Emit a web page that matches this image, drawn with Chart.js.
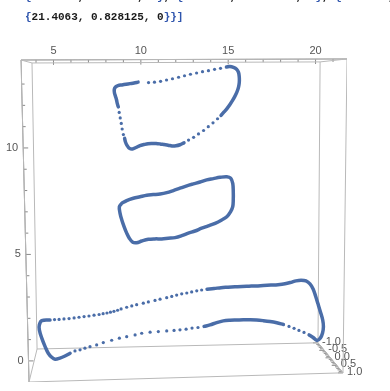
<!DOCTYPE html>
<html>
<head>
<meta charset="utf-8">
<script src="https://cdn.jsdelivr.net/npm/chart.js@4"></script>
<style>
  body { margin: 0; background: #fff; }
  #wrap { position: relative; width: 390px; height: 391px; overflow: hidden; }
  canvas { position: absolute; left: 0; top: 0; }
  .out { position: absolute; left: 25px; font: bold 11px 'Liberation Mono', monospace; line-height: 13px; color: #1a1a1a; white-space: nowrap; }
  .br { color: #2f55ad; }
</style>
</head>
<body>
<div id="wrap">
  <canvas id="plot" width="390" height="391"></canvas>
  <div class="out" style="top:-9px"><span class="br">{</span>21.4213, 2.03125, 0<span class="br">}</span>, <span class="br">{</span>21.4094, 0.921875, 0<span class="br">}</span>, <span class="br">{</span>21.3906, 0.8</div>
  <div class="out" style="top:11px"><span class="br">{</span>21.4063, 0.828125, 0<span class="br">}}]</span></div>
</div>
<script>
// Point curves (x, y), split into solid runs and loose dots
const shape1Solid = [
  [[9.84,13.09],[9.61,13.05],[9.38,13.02],[9.15,12.99],[8.92,12.96],[8.69,12.93],[8.55,12.86],[8.48,12.75],[8.49,12.58],[8.55,12.42],[8.61,12.25],[8.65,12.09],[8.71,11.93]],
  [[9.07,10.45],[9.12,10.28],[9.21,10.12],[9.35,9.98],[9.52,9.95],[9.72,10.02],[9.95,10.11],[10.18,10.16],[10.41,10.20],[10.64,10.21],[10.87,10.21],[11.10,10.19],[11.33,10.16],[11.56,10.13],[11.78,10.09],[12.01,10.10],[12.24,10.15],[12.47,10.24]],
  [[14.59,11.53],[14.76,11.69],[14.93,11.85],[15.10,12.04],[15.25,12.23],[15.38,12.42],[15.49,12.61],[15.57,12.79],[15.62,12.98],[15.64,13.17],[15.63,13.36],[15.59,13.55],[15.48,13.70],[15.30,13.78],[15.10,13.82],[14.90,13.80]]
];
const shape1Dots = [
  [8.76,11.67],[8.82,11.41],[8.88,11.15],[8.93,10.89],[9.00,10.63],
  [12.73,10.37],[13.02,10.50],[13.30,10.66],[13.59,10.82],[13.86,11.00],[14.13,11.18],[14.39,11.37],
  [14.56,13.74],[14.22,13.69],[13.87,13.63],[13.53,13.58],[13.19,13.52],[12.84,13.46],[12.50,13.39],[12.16,13.32],[11.81,13.25],[11.47,13.19],[11.13,13.13],[10.78,13.09],[10.44,13.07]
];
const shape2Solid = [
  [[8.91,7.40],[8.77,7.24],[8.81,6.93],[8.91,6.62],[9.04,6.31],[9.19,6.00],[9.34,5.76],[9.54,5.57],[9.76,5.55],[10.05,5.63],[10.43,5.71],[10.81,5.73],[11.20,5.73],[11.57,5.76],[11.96,5.79],[12.34,5.88],[12.72,6.00],[13.10,6.10],[13.48,6.23],[13.86,6.34],[14.25,6.46],[14.63,6.62],[14.92,6.77],[15.14,7.01],[15.26,7.24],[15.29,7.56],[15.29,7.95],[15.26,8.34],[15.14,8.58],[14.92,8.65],[14.53,8.62],[14.15,8.56],[13.77,8.50],[13.39,8.40],[13.00,8.31],[12.63,8.22],[12.24,8.11],[11.86,8.00],[11.48,7.90],[11.10,7.84],[10.71,7.81],[10.34,7.78],[9.95,7.71],[9.57,7.64],[9.19,7.53],[8.91,7.40]]
];
const shape2Dots = [];
const shape3Solid = [
  [[4.80,1.92],[4.33,1.89],[4.19,1.69],[4.19,1.46],[4.33,1.07],[4.52,0.67],[4.70,0.36],[4.90,0.17],[5.09,0.08],[5.37,0.13],[5.66,0.23],[5.95,0.36]],
  [[13.62,1.62],[13.96,1.69],[14.34,1.80],[14.72,1.88],[15.10,1.91],[15.49,1.92],[15.87,1.93],[16.25,1.93],[16.63,1.92],[17.01,1.89],[17.39,1.85],[17.78,1.79],[18.16,1.71]],
  [[19.63,1.22],[19.86,1.10],[20.08,0.96],[20.28,1.08],[20.40,1.31],[20.45,1.60],[20.41,1.92],[20.28,2.30],[20.14,2.68],[20.00,3.05],[19.86,3.38],[19.68,3.62],[19.45,3.76],[19.17,3.79],[18.88,3.76],[18.60,3.69],[18.25,3.62],[17.85,3.58],[17.45,3.56],[17.01,3.54],[16.59,3.52],[16.19,3.51],[15.79,3.50],[15.39,3.48],[14.99,3.46],[14.59,3.44],[14.19,3.40],[13.79,3.37]]
];
const shape3Dots = [
  [6.23,0.47],[6.52,0.52],[6.80,0.60],[7.09,0.67],[7.47,0.75],[7.85,0.86],[8.33,0.97],[8.77,1.07],[9.19,1.14],[9.67,1.22],[10.05,1.30],[10.53,1.35],[11.00,1.38],[11.48,1.41],[11.90,1.43],[12.24,1.46],[12.59,1.49],[12.93,1.54],[13.27,1.57],
  [18.48,1.62],[18.77,1.53],[19.05,1.43],[19.34,1.34],
  [13.48,3.33],[13.20,3.29],[12.91,3.24],[12.63,3.19],[12.34,3.15],[12.05,3.09],[11.77,3.03],[11.48,2.97],[11.10,2.90],[10.81,2.84],[10.43,2.77],[10.14,2.71],[9.76,2.64],[9.48,2.58],[9.19,2.52],[8.87,2.44],[8.67,2.38],[8.46,2.33],[8.26,2.29],[8.06,2.25],[7.84,2.22],[7.61,2.18],[7.32,2.15],[7.03,2.11],[6.75,2.08],[6.46,2.05],[6.18,2.02],[5.89,1.99],[5.60,1.97],[5.32,1.95],[5.06,1.94]
];

// Box frame, front and back faces as seen (corners in plot units)
const frontFace = [[3.14,14.13],[21.80,14.18],[21.57,-0.56],[3.60,-0.99]];
const backFace = [[3.77,13.99],[20.26,14.04],[20.14,0.85],[4.06,0.56]];

// Ticks
const xTicks = [5, 10, 15, 20];
const xMinorTicks = [4, 5, 6, 7, 8, 9, 10, 11, 12, 13, 14, 15, 16, 17, 18, 19, 20, 21];
const yTicks = [0, 5, 10];
const yMinorTicks = [0, 1, 2, 3, 4, 5, 6, 7, 8, 9, 10, 11, 12, 13];
const zTicks = [-1, -0.5, 0, 0.5, 1];
const zLabels = ['-1.0', '-0.5', '0.0', '0.5', '1.0'];
const zMinorTicks = [-1, -0.9, -0.8, -0.7, -0.6, -0.5, -0.4, -0.3, -0.2, -0.1, 0, 0.1, 0.2, 0.3, 0.4, 0.5, 0.6, 0.7, 0.8, 0.9, 1];

const pointBlue = '#4a6da8';
const edgeGray = '#b9b9b9';
const axisGray = '#8a8a8a';
const labelGray = '#555';
const labelFont = "11px 'Liberation Sans', Arial, sans-serif";

const toXY = pts => pts.map(([x, y]) => ({ x, y }));

function solidSet(run) {
  return {
    data: toXY(run),
    showLine: true,
    borderColor: pointBlue,
    borderWidth: 3.5,
    borderCapStyle: 'round',
    borderJoinStyle: 'round',
    tension: 0.35,
    pointRadius: 0
  };
}
function dotSet(pts) {
  return {
    data: toXY(pts),
    showLine: false,
    pointRadius: 1.6,
    pointBorderWidth: 0,
    pointBackgroundColor: pointBlue
  };
}
function edgeSet(pts, color) {
  return {
    data: toXY(pts),
    showLine: true,
    borderColor: color,
    borderWidth: 1,
    tension: 0,
    pointRadius: 0
  };
}

const datasets = [
  ...shape1Solid.map(solidSet), dotSet(shape1Dots),
  ...shape2Solid.map(solidSet), dotSet(shape2Dots),
  ...shape3Solid.map(solidSet), dotSet(shape3Dots),
  edgeSet([...frontFace, frontFace[0]], edgeGray),
  edgeSet([...backFace, backFace[0]], edgeGray),
  ...frontFace.map((p, i) => edgeSet([p, backFace[i]], edgeGray))
];

// Axes drawn along the slanted box edges
const boxAxes = {
  id: 'boxAxes',
  beforeDatasetsDraw(chart) {
    const { ctx, scales: { x, y } } = chart;
    const [A, B, C, D] = frontFace;
    const G = backFace[2];
    const px = v => x.getPixelForValue(v);
    const py = v => y.getPixelForValue(v);
    ctx.save();
    ctx.strokeStyle = axisGray;
    ctx.lineWidth = 1;
    ctx.beginPath();
    // axis lines
    ctx.moveTo(px(A[0]), py(A[1])); ctx.lineTo(px(B[0]), py(B[1]));
    ctx.moveTo(px(A[0]), py(A[1])); ctx.lineTo(px(D[0]), py(D[1]));
    ctx.moveTo(px(G[0]), py(G[1])); ctx.lineTo(px(C[0]), py(C[1]));
    // top axis ticks, pointing into the box
    xMinorTicks.forEach(v => {
      const t = (v - A[0]) / (B[0] - A[0]);
      const yy = py(A[1] + t * (B[1] - A[1]));
      const len = xTicks.includes(v) ? 5 : 3;
      ctx.moveTo(px(v), yy); ctx.lineTo(px(v), yy + len);
    });
    // left axis ticks
    yMinorTicks.forEach(v => {
      const t = (v - A[1]) / (D[1] - A[1]);
      const xx = px(A[0] + t * (D[0] - A[0]));
      const len = yTicks.includes(v) ? 5 : 3;
      ctx.moveTo(xx, py(v)); ctx.lineTo(xx + len, py(v));
    });
    // depth axis ticks
    zMinorTicks.forEach(v => {
      const t = (v + 1) / 2;
      const xx = px(G[0] + t * (C[0] - G[0]));
      const yy = py(G[1] + t * (C[1] - G[1]));
      const len = zTicks.includes(v) ? 5 : 3;
      ctx.moveTo(xx, yy); ctx.lineTo(xx - len, yy);
    });
    ctx.stroke();

    ctx.fillStyle = labelGray;
    ctx.font = labelFont;
    ctx.textBaseline = 'middle';
    ctx.textAlign = 'right';
    yTicks.forEach(v => {
      const t = (v - A[1]) / (D[1] - A[1]);
      const xx = px(A[0] + t * (D[0] - A[0]));
      ctx.fillText(String(v), xx - 5, py(v));
    });
    ctx.textAlign = 'left';
    zTicks.forEach((v, i) => {
      const t = (v + 1) / 2;
      const xx = px(G[0] + t * (C[0] - G[0]));
      const yy = py(G[1] + t * (C[1] - G[1]));
      ctx.fillText(zLabels[i], xx + 4, yy - 1);
    });
    ctx.restore();
  }
};

new Chart(document.getElementById('plot'), {
  type: 'scatter',
  data: { datasets },
  options: {
    responsive: false,
    animation: false,
    devicePixelRatio: 1,
    layout: { padding: { left: 21, right: 43, top: 0, bottom: 9 } },
    plugins: { legend: { display: false }, tooltip: { enabled: false } },
    scales: {
      x: {
        type: 'linear',
        position: 'top',
        min: 3.14,
        max: 21.8,
        grid: { display: false, drawTicks: false },
        border: { display: false },
        afterBuildTicks: s => { s.ticks = xTicks.map(v => ({ value: v })); },
        afterFit: s => { s.height = 58.5; },
        ticks: {
          autoSkip: false,
          maxRotation: 0,
          padding: 1,
          color: labelGray,
          font: { family: "'Liberation Sans', Arial, sans-serif", size: 11 }
        }
      },
      y: {
        type: 'linear',
        display: false,
        min: -0.99,
        max: 14.2
      }
    }
  },
  plugins: [boxAxes]
});
</script>
</body>
</html>
